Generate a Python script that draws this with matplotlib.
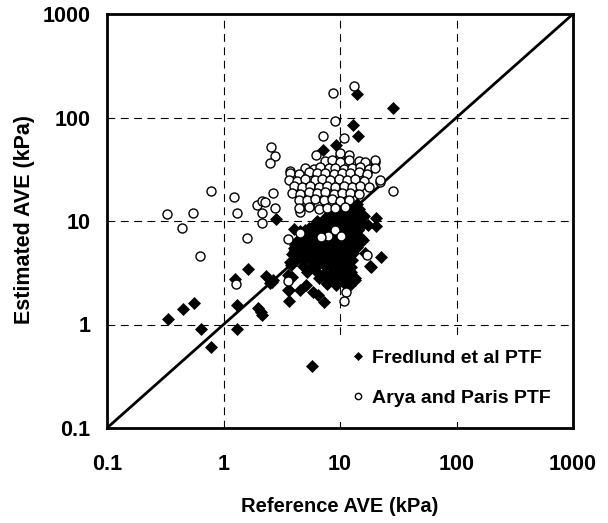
import matplotlib
matplotlib.use("Agg")
import matplotlib.pyplot as plt

# ---------------- data ----------------
# Fredlund et al PTF (reference AVE, estimated AVE) in kPa
fred_x = [14.0, 28.3, 13.0, 14.3, 9.2, 7.1, 2.8, 20.2, 20.3, 17.4, 6.3, 4.0, 4.5, 22.5,
          18.3, 15.8, 13.5, 1.63, 2.3, 2.66, 2.6, 2.5, 3.85, 3.65, 3.65, 4.5, 5.1, 5.9,
          6.5, 7.25, 7.7, 1.25, 1.3, 1.3, 1.98, 2.11, 2.16, 0.56, 0.447, 0.334, 0.645,
          0.786, 5.78, 4.0, 3.8, 3.6, 3.6, 4.1, 3.73, 18.0, 16.3,
          # dense cluster
          11.5, 12.6, 13.4, 14.6, 12.0, 13.9,
          9.6, 10.4, 11.6, 12.4, 13.6, 15.1,
          8.1, 9.0, 10.1, 11.0, 12.1, 13.0, 14.1, 16.0,
          7.4, 8.6, 9.4, 10.6, 11.4, 12.6, 13.4, 14.6,
          6.0, 7.1, 7.9, 9.1, 10.0, 11.1, 11.9, 13.1, 14.0, 15.4,
          5.0, 5.8, 6.6, 7.4, 8.2, 9.0, 10.0, 11.0, 12.0, 13.0, 14.2,
          4.8, 5.5, 6.2, 7.0, 7.8, 8.6, 9.5, 10.5, 11.5, 12.5, 13.5, 15.0,
          4.3, 5.0, 5.7, 6.4, 7.2, 8.0, 9.0, 10.0, 11.0, 12.0, 13.0, 14.5,
          4.0, 4.6, 5.3, 6.0, 6.8, 7.6, 8.5, 9.5, 10.5, 11.5, 12.5, 14.0,
          3.9, 4.5, 5.2, 5.9, 6.7, 7.5, 8.4, 9.4, 10.5, 11.7, 13.0,
          4.2, 4.9, 5.6, 6.4, 7.3, 8.2, 9.2, 10.3, 11.5, 12.8,
          4.8, 5.6, 6.5, 7.5, 8.6, 9.8, 11.0, 12.5,
          5.2, 6.2, 7.3, 8.5, 9.8, 11.2, 12.5,
          6.6, 8.0, 9.5, 11.0, 13.5,
          7.7, 9.2, 10.8, 12.3,
          # interleaved fill
          10.0, 11.0, 12.1, 13.1, 14.2,
          8.6, 9.5, 10.5, 11.5, 12.5, 13.5, 14.8,
          7.5, 8.3, 9.2, 10.1, 11.0, 12.0, 13.0, 14.0,
          6.5, 7.2, 8.0, 8.9, 9.8, 10.7, 11.7, 12.8, 13.8,
          5.4, 6.1, 6.8, 7.6, 8.4, 9.3, 10.3, 11.3, 12.4, 13.6,
          4.6, 5.3, 6.0, 6.8, 7.6, 8.5, 9.5, 10.5, 11.6, 12.8,
          4.4, 5.0, 5.7, 6.4, 7.2, 8.1, 9.0, 10.0, 11.1, 12.2,
          4.1, 4.8, 5.5, 6.3, 7.1, 8.0, 8.9, 9.9, 11.0,
          5.3, 6.0, 6.9, 7.9, 9.0, 10.2, 11.6,
          5.8, 6.8, 7.9, 9.1, 10.4, 11.8]
fred_y = [167, 124, 84.7, 66, 53.8, 48, 10.5, 10.7, 8.96, 9.1, 10.0, 8.3, 8.0, 4.5,
          3.6, 6.5, 2.8, 3.4, 2.95, 2.7, 2.6, 2.5, 2.86, 2.15, 1.69, 2.15, 2.4, 2.08,
          1.93, 1.64, 2.46, 2.73, 1.54, 0.906, 1.44, 1.31, 1.24, 1.6, 1.41, 1.12, 0.906,
          0.603, 0.40, 5.06, 3.76, 3.0, 2.15, 5.2, 3.98, 3.7, 4.9,
          # dense cluster
          13.3, 12.9, 13.6, 13.1, 14.3, 14.6,
          12.1, 11.8, 12.3, 11.9, 12.2, 11.7,
          11.2, 10.8, 11.1, 10.9, 11.3, 10.8, 11.0, 11.2,
          10.1, 9.9, 10.2, 9.8, 10.1, 9.9, 10.3, 9.8,
          9.1, 8.9, 9.2, 8.8, 9.1, 9.0, 8.8, 9.2, 8.9, 9.1,
          8.1, 7.9, 8.2, 7.8, 8.0, 8.2, 7.9, 8.1, 7.8, 8.0, 8.2,
          7.1, 6.9, 7.2, 6.8, 7.0, 7.1, 6.9, 7.2, 6.8, 7.0, 7.1, 6.9,
          6.2, 6.3, 6.1, 6.3, 6.2, 6.0, 6.3, 6.1, 6.2, 6.3, 6.0, 6.2,
          5.5, 5.4, 5.6, 5.5, 5.4, 5.6, 5.5, 5.4, 5.6, 5.5, 5.4, 5.6,
          4.8, 4.9, 4.7, 4.8, 4.9, 4.7, 4.8, 4.9, 4.7, 4.8, 4.9,
          4.2, 4.1, 4.3, 4.2, 4.1, 4.3, 4.2, 4.1, 4.3, 4.2,
          3.7, 3.6, 3.8, 3.7, 3.6, 3.8, 3.7, 3.6,
          3.2, 3.3, 3.1, 3.2, 3.3, 3.1, 3.2,
          2.8, 2.7, 2.9, 2.8, 2.7,
          2.5, 2.4, 2.5, 2.4,
          # interleaved fill
          12.7, 12.5, 12.8, 12.6, 12.4,
          11.6, 11.4, 11.7, 11.5, 11.6, 11.4, 11.8,
          10.6, 10.4, 10.7, 10.5, 10.6, 10.4, 10.7, 10.5,
          9.6, 9.5, 9.7, 9.4, 9.6, 9.5, 9.7, 9.4, 9.6,
          8.6, 8.5, 8.7, 8.4, 8.6, 8.5, 8.7, 8.4, 8.6, 8.5,
          7.6, 7.5, 7.7, 7.4, 7.6, 7.5, 7.7, 7.4, 7.6, 7.5,
          6.6, 6.7, 6.5, 6.6, 6.7, 6.5, 6.6, 6.7, 6.5, 6.6,
          5.8, 5.9, 5.7, 5.8, 5.9, 5.7, 5.8, 5.9, 5.7,
          5.1, 5.2, 5.0, 5.1, 5.2, 5.0, 5.1,
          4.5, 4.4, 4.6, 4.5, 4.4, 4.6]

# Arya and Paris PTF
arya_x = [13.2, 8.77, 9.1, 7.14, 10.8, 2.56, 2.77, 2.49, 3.7, 0.776, 1.23, 1.3, 0.547,
          0.33, 0.44, 1.6, 0.632, 1.95, 2.13, 2.27, 2.13, 2.16, 2.64, 2.75, 3.6, 4.5,
          6.5, 28.3, 22.0, 20.0, 3.6, 1.29, 11.3, 10.9, 16.9, 9.1, 7.9, 6.9, 10.1, 4.5,
          4.5, 10.0,
          # cluster
          6.26, 10.07, 11.9,
          7.48, 8.54, 10.07, 11.9, 14.5, 16.5, 20.1,
          5.04, 5.94, 6.78, 8.0, 9.12, 10.75, 12.7, 14.9, 17.6, 20.1,
          3.75, 4.41, 5.38, 6.35, 7.48, 8.82, 10.4, 12.3, 14.5, 17.1,
          3.62, 4.27, 5.04, 6.14, 7.0, 8.26, 9.73, 11.5, 13.5, 16.0, 22.2,
          4.0, 4.72, 5.56, 6.56, 7.73, 9.12, 10.75, 12.7, 14.9, 17.6,
          3.87, 4.56, 5.38, 6.35, 7.48, 8.82, 10.4, 12.3, 14.5,
          4.41, 5.21, 6.14, 7.24, 8.54, 10.07, 11.9,
          4.41, 5.38, 6.56, 7.73, 9.12, 11.1]
arya_y = [201, 171, 92.5, 65.8, 63.8, 51.9, 42.2, 36.0, 30.2, 19.5, 16.9, 12.0, 12.0,
          11.6, 8.5, 6.9, 4.56, 14.3, 15.7, 15.1, 12.0, 9.5, 18.8, 13.3, 6.7, 13.3,
          13.9, 19.5, 24.0, 36.9, 2.63, 2.44, 2.06, 1.69, 4.73, 8.2, 7.2, 7.0, 7.2, 7.6,
          12.2, 42.0,
          # cluster
          43.0, 45.0, 43.5,
          37.8, 38.5, 37.5, 38.8, 38.0, 37.2, 38.5,
          32.5, 31.8, 33.0, 32.2, 32.8, 31.9, 32.6, 33.1, 32.0, 32.5,
          29.1, 28.5, 29.6, 28.8, 29.4, 28.7, 29.2, 28.9, 29.5, 28.6,
          25.1, 24.6, 25.5, 24.8, 25.3, 24.7, 25.2, 24.9, 25.4, 24.6, 25.0,
          21.6, 21.1, 22.0, 21.4, 21.8, 21.2, 21.7, 21.3, 21.9, 21.5,
          18.7, 18.3, 19.0, 18.5, 18.9, 18.4, 18.8, 18.6, 18.2,
          16.1, 15.8, 16.3, 15.9, 16.2, 15.7, 16.0,
          13.4, 13.6, 13.2, 13.5, 13.3, 13.6]

line_xy = [0.1, 1000]
ticks = [0.1, 1, 10, 100, 1000]
tick_labels = ["0.1", "1", "10", "100", "1000"]

# ---------------- plot ----------------
plt.rcParams['font.family'] = ['Liberation Sans', 'DejaVu Sans']
plt.rcParams['font.weight'] = 'bold'

fig = plt.figure(figsize=(6.08, 5.23), dpi=100)
ax = fig.add_axes([107/608, 1-428/523, 466/608, 414/523])

ax.set_xscale('log')
ax.set_yscale('log')
ax.set_xlim(0.1, 1000)
ax.set_ylim(0.1, 1000)

for v in [1, 10, 100]:
    ax.axvline(v, color='black', lw=0.8, ls=(0, (7, 5)), zorder=1)
    ax.axhline(v, color='black', lw=0.8, ls=(0, (7, 5)), zorder=1)

ax.plot(line_xy, line_xy, color='black', lw=2.0, zorder=2)

ax.plot(fred_x, fred_y, ls='none', marker='D', ms=5.8, mfc='black', mec='black',
        mew=0.5, label='Fredlund et al PTF', zorder=3)
ax.plot(arya_x, arya_y, ls='none', marker='o', ms=6.5, mfc='white', mec='black',
        mew=1.0, label='Arya and Paris PTF', zorder=4)

ax.set_xticks(ticks)
ax.set_xticklabels(tick_labels)
ax.set_yticks(ticks)
ax.set_yticklabels(tick_labels)
ax.minorticks_off()
ax.tick_params(axis='both', length=0, labelsize=15.5)
ax.tick_params(axis='x', pad=19)
ax.tick_params(axis='y', pad=12)
for lab in ax.get_xticklabels() + ax.get_yticklabels():
    lab.set_fontweight('bold')

for s in ax.spines.values():
    s.set_linewidth(2.0)

fig.text(340/608, 1-507/523, 'Reference AVE (kPa)', ha='center', va='center',
         fontsize=14.5, fontweight='bold')
fig.text(25/608, 1-220/523, 'Estimated AVE (kPa)', ha='center', va='center',
         rotation=90, fontsize=15.5, fontweight='bold')

leg = ax.legend(loc='center left', bbox_to_anchor=(0.495, 0.12), frameon=True,
                facecolor='white', edgecolor='none', framealpha=1.0, fancybox=False,
                fontsize=14, markerscale=0.7, handlelength=0.6, handletextpad=0.4,
                labelspacing=1.15, borderpad=0.75, borderaxespad=0)
leg.set_zorder(5)
for t in leg.get_texts():
    t.set_fontweight('bold')

fig.savefig('out.png', dpi=100)
